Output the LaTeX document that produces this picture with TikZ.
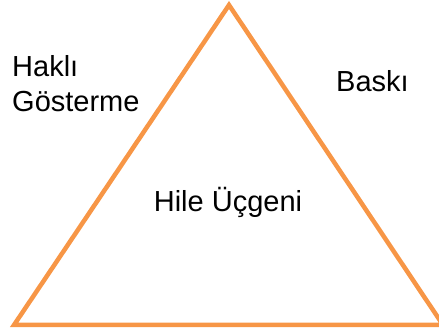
\documentclass[tikz,border=0pt]{standalone}
\usepackage{fontspec}
\setmainfont{Liberation Sans}
\definecolor{edgeorange}{HTML}{F79646}
\begin{document}
\begin{tikzpicture}[x=1pt,y=-1pt,
  lbl/.style={inner sep=0pt, font=\fontsize{29}{35}\selectfont, text=black},
  side/.style={draw=edgeorange, line width=4.5pt, line join=miter}]
\useasboundingbox (0,0) rectangle (439,336);
% corners of the triangle
\coordinate (top) at (229,5);
\coordinate (bl) at (14,325);
\coordinate (br) at (443,325);
\draw[side] (top) -- (bl) -- (br) -- cycle;
% labels
\node[lbl, anchor=base west] (hakli) at (12,77) {Haklı};
\node[lbl, anchor=base west] (gosterme) at (12,112) {Gösterme};
\node[lbl, anchor=base west] (baski) at (336,92) {Baskı};
\node[lbl, anchor=base] (hile) at (228,212) {Hile Üçgeni};
\end{tikzpicture}
\end{document}
